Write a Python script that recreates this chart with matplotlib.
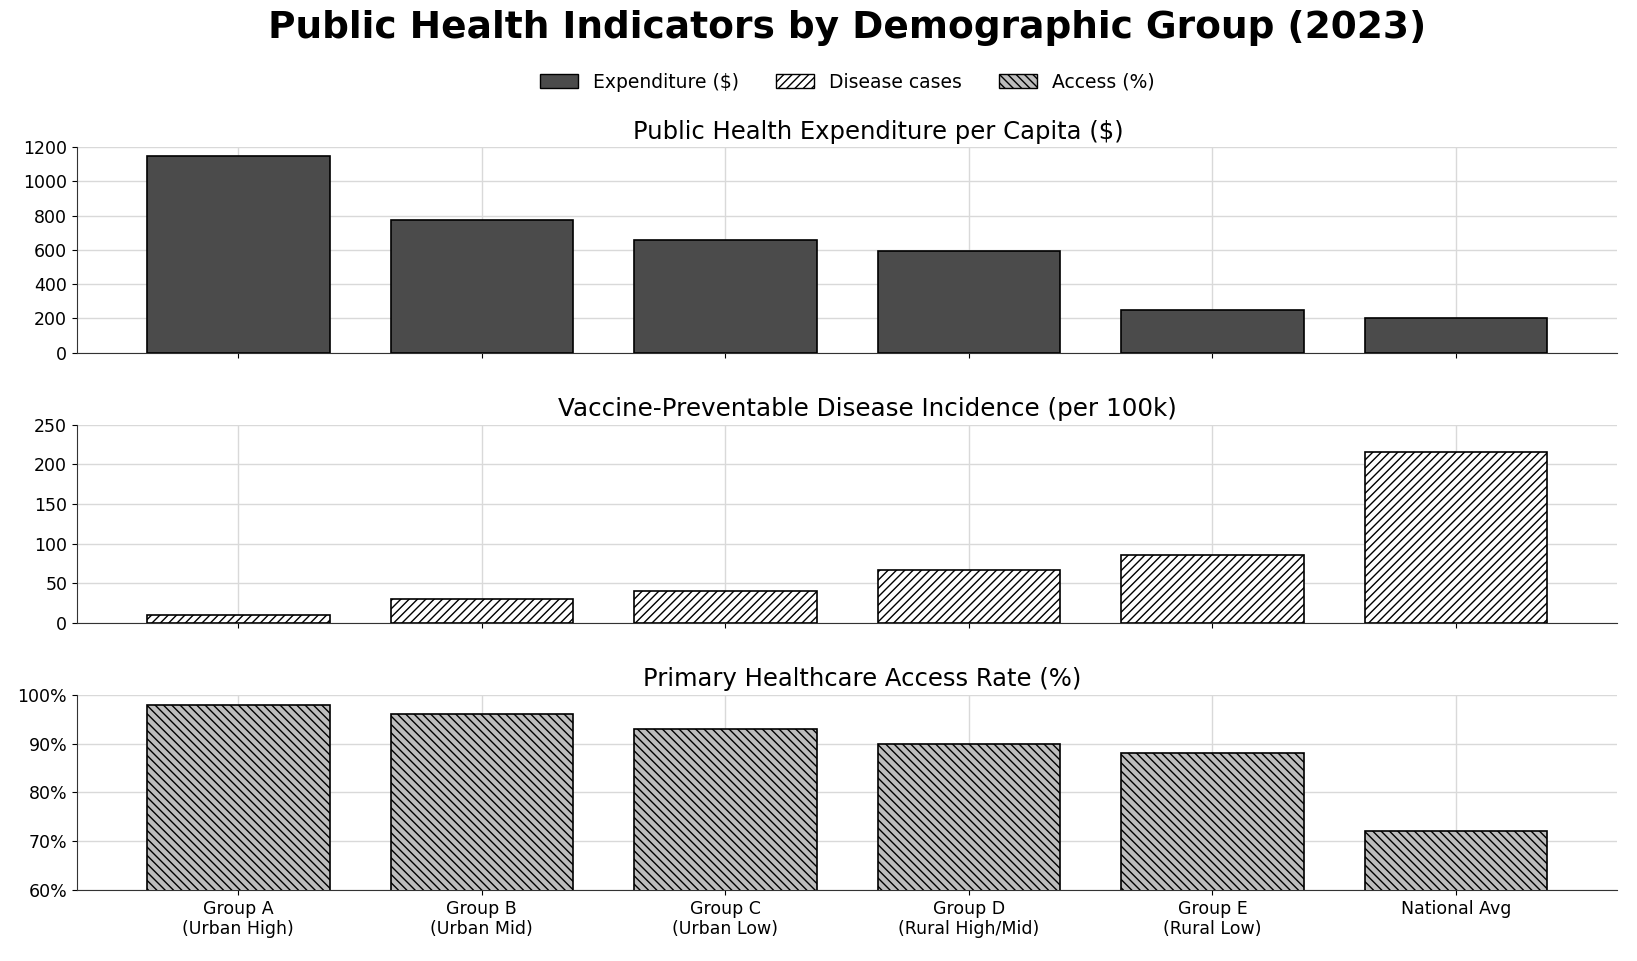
import matplotlib.pyplot as plt
from matplotlib.patches import Patch
from matplotlib.ticker import PercentFormatter

groups = ['Group A\n(Urban High)', 'Group B\n(Urban Mid)', 'Group C\n(Urban Low)',
          'Group D\n(Rural High/Mid)', 'Group E\n(Rural Low)', 'National Avg']
expenditure = [1150, 775, 660, 595, 250, 200]
disease_cases = [10, 30, 40, 67, 85, 215]
access_pct = [98, 96, 93, 90, 88, 72]

plt.rcParams['hatch.linewidth'] = 1.0
plt.rcParams['axes.spines.top'] = False
plt.rcParams['axes.spines.right'] = False

fig = plt.figure(figsize=(16.37, 9.61), dpi=100)
left, width = 0.047, 0.941
ax1 = fig.add_axes([left, 0.633, width, 0.214])
ax2 = fig.add_axes([left, 0.352, width, 0.206], sharex=ax1)
ax3 = fig.add_axes([left, 0.074, width, 0.203], sharex=ax1)
center = left + width / 2

x = range(len(groups))
bw = 0.75

# Expenditure
ax1.bar(x, expenditure, width=bw, color='#4b4b4b', edgecolor='black', linewidth=1.2, zorder=3)
ax1.set_ylim(0, 1200)
ax1.set_yticks(range(0, 1201, 200))
ax1.set_title('Public Health Expenditure per Capita ($)', fontsize=17.5, x=0.52)

# Disease incidence
ax2.bar(x, disease_cases, width=bw, color='white', edgecolor='black', hatch='////',
        linewidth=1.2, zorder=3)
ax2.set_ylim(0, 250)
ax2.set_yticks(range(0, 251, 50))
ax2.set_title('Vaccine-Preventable Disease Incidence (per 100k)', fontsize=17.75, x=0.513)

# Access rate
ax3.bar(x, access_pct, width=bw, color='#bdbdbd', edgecolor='black', hatch='\\\\\\\\',
        linewidth=1.2, zorder=3)
ax3.set_ylim(60, 100)
ax3.set_yticks(range(60, 101, 10))
ax3.yaxis.set_major_formatter(PercentFormatter(decimals=0))
ax3.set_title('Primary Healthcare Access Rate (%)', fontsize=17.5, x=0.51)

ax3.set_xticks(list(x))
ax3.set_xticklabels(groups, fontsize=12.5)
for ax in (ax1, ax2):
    ax.tick_params(axis='x', labelbottom=False)

for ax in (ax1, ax2, ax3):
    ax.grid(True, color='#d9d9d9', linewidth=1.0, zorder=0)
    ax.set_axisbelow(True)
    ax.tick_params(axis='y', labelsize=12.5)
    ax.spines['left'].set_color('#333333')
    ax.spines['bottom'].set_color('#333333')

fig.suptitle('Public Health Indicators by Demographic Group (2023)', fontsize=27,
             fontweight='bold', x=center, y=0.99)

handles = [
    Patch(facecolor='#4b4b4b', edgecolor='black', label='Expenditure ($)'),
    Patch(facecolor='white', edgecolor='black', hatch='////', label='Disease cases'),
    Patch(facecolor='#bdbdbd', edgecolor='black', hatch='\\\\\\\\', label='Access (%)'),
]
fig.legend(handles=handles, loc='upper center', bbox_to_anchor=(center, 0.942), ncol=3,
           frameon=False, fontsize=13.5, columnspacing=2.0)

plt.savefig('out.png', dpi=100)
